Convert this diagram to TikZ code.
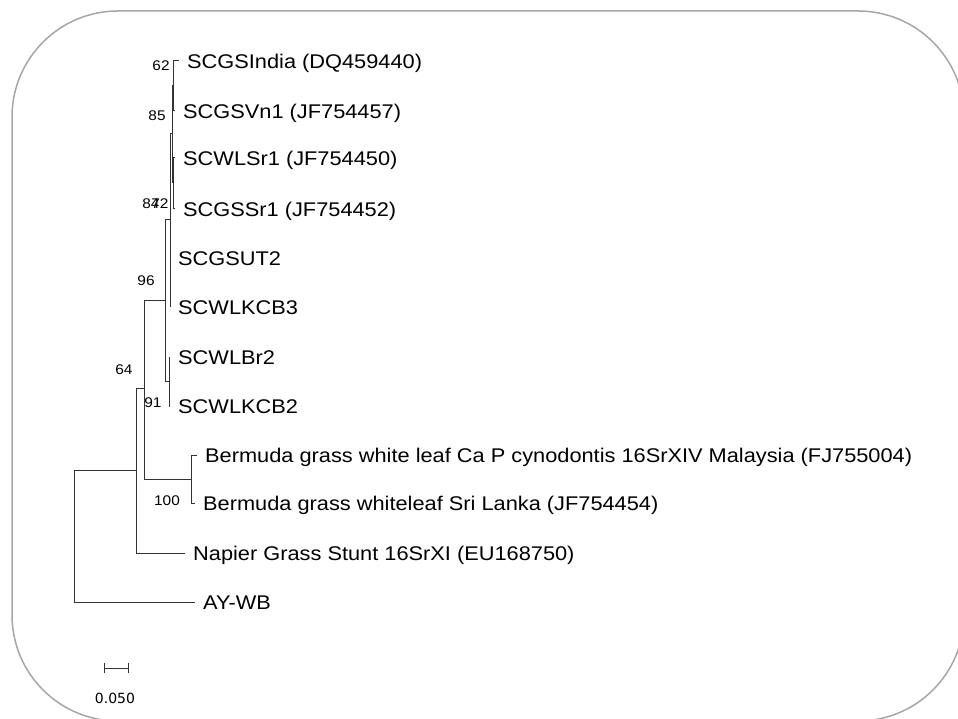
\documentclass[tikz,border=0pt]{standalone}
\usepackage{fontspec}
\setmainfont{Liberation Sans}[FakeStretch=1.1]
\newfontfamily\echellefont{DejaVu Sans}
\usetikzlibrary{arrows.meta}
\tikzset{
  feuille/.style={anchor=west, inner xsep=8pt, inner ysep=0pt, text height=14.2pt, text depth=0pt,
    font=\fontsize{19.8}{22}\selectfont},
  appui/.style={inner sep=0pt, text height=10pt, text depth=0pt, font=\fontsize{14}{16}\selectfont},
  branche/.style={line width=1pt, draw=black!80},
}
\begin{document}
\begin{tikzpicture}[x=1pt, y=-1pt]
    \useasboundingbox (0,0) rectangle (958,719);

    % Cadre
    \draw[line width=1.5pt, draw=black!35, rounded corners=106pt] (12,11) rectangle (964,721);

    % Noeuds internes
    \coordinate (racine) at (74,536);
    \coordinate (A) at (136,470);
    \coordinate (B) at (144,388);
    \coordinate (berm) at (191,479);
    \coordinate (C) at (165,300);
    \coordinate (D) at (169,381);
    \coordinate (E) at (170,220);
    \coordinate (F) at (172,134);
    \coordinate (G) at (173,86);
    \coordinate (H) at (173,183);

    % Feuilles
    \node[feuille] (india) at (179,61) {SCGSIndia (DQ459440)};
    \node[feuille] (vn1) at (175,111) {SCGSVn1 (JF754457)};
    \node[feuille] (wlsr1) at (175,158) {SCWLSr1 (JF754450)};
    \node[feuille] (gssr1) at (175,209) {SCGSSr1 (JF754452)};
    \node[feuille] (ut2) at (170,258) {SCGSUT2};
    \node[feuille] (kcb3) at (170,307) {SCWLKCB3};
    \node[feuille] (br2) at (170,357) {SCWLBr2};
    \node[feuille] (kcb2) at (170,406) {SCWLKCB2};
    \node[feuille] (berm1) at (197,455) {Bermuda grass white leaf Ca P cynodontis 16SrXIV Malaysia (FJ755004)};
    \node[feuille] (berm2) at (195,503) {Bermuda grass whiteleaf Sri Lanka (JF754454)};
    \node[feuille] (napier) at (185,553) {Napier Grass Stunt 16SrXI (EU168750)};
    \node[feuille] (aywb) at (195,602) {AY-WB};

    % Branches
    \draw[branche] (racine) |- (A);
    \draw[branche] (racine) |- (aywb.west);
    \draw[branche] (A) |- (B);
    \draw[branche] (A) |- (napier.west);
    \draw[branche] (B) |- (berm);
    \draw[branche] (B) |- (C);
    \draw[branche] (berm) |- (berm1.west);
    \draw[branche] (berm) |- (berm2.west);
    \draw[branche] (C) |- (E);
    \draw[branche] (C) |- (D);
    \draw[branche] (D) |- (br2.west);
    \draw[branche] (D) |- (kcb2.west);
    \draw[branche] (E) |- (F);
    \draw[branche] (E) |- (ut2.west);
    \draw[branche] (E) |- (kcb3.west);
    \draw[branche] (F) |- (G);
    \draw[branche] (F) |- (H);
    \draw[branche] (G) |- (india.west);
    \draw[branche] (G) |- (vn1.west);
    \draw[branche] (H) |- (wlsr1.west);
    \draw[branche] (H) |- (gssr1.west);

    % Valeurs de bootstrap
    \node[appui] (b62) at (161,66) {62};
    \node[appui] (b85) at (157,116) {85};
    \node[appui] (b84) at (151,204) {84};
    \node[appui] (b72) at (160,204) {72};
    \node[appui] (b96) at (146,280) {96};
    \node[appui] (b64) at (124,369) {64};
    \node[appui] (b91) at (153,402) {91};
    \node[appui] (b100) at (167,500) {100};

    % Echelle
    \coordinate (eg) at (104,668);
    \coordinate (ed) at (129,668);
    \draw[branche, {Bar[width=10pt]}-{Bar[width=10pt]}] (eg) -- (ed);
    \node[inner sep=0pt, font=\echellefont\fontsize{14}{16}\selectfont] (val) at (115,698) {0.050};
\end{tikzpicture}
\end{document}
